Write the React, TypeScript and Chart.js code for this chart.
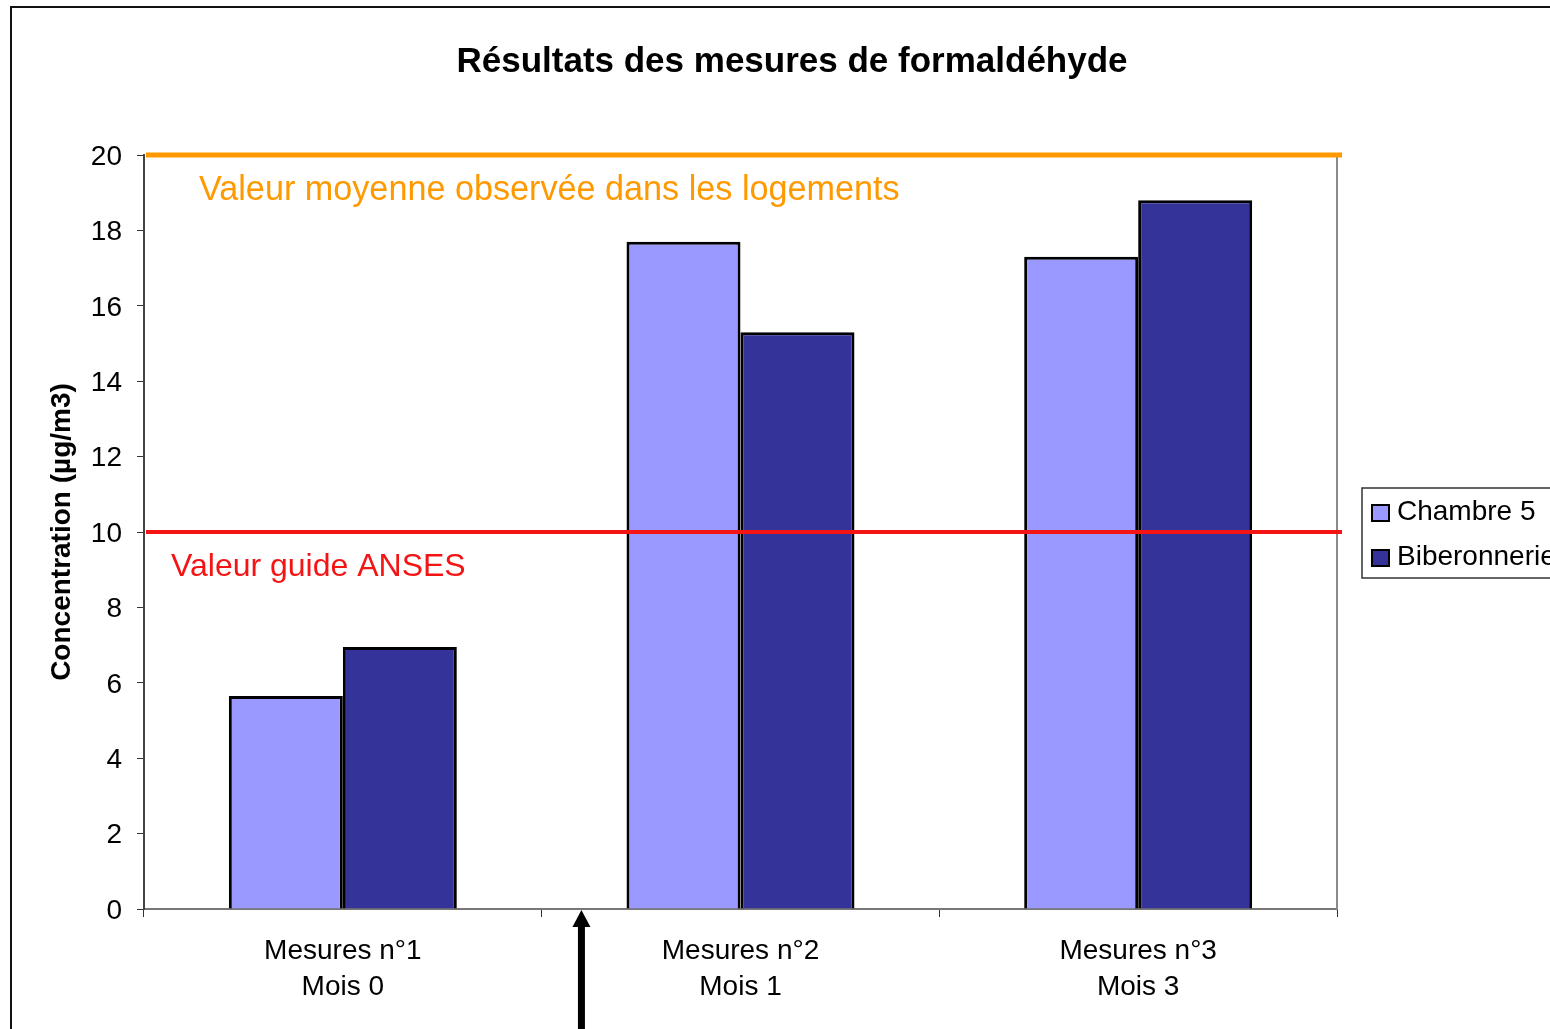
import React, { useEffect, useRef } from "react";
import { Chart, registerables } from "chart.js";

Chart.register(...registerables);

const chartTitle = "Résultats des mesures de formaldéhyde";
const categories: string[][] = [
  ["Mesures n°1", "Mois 0"],
  ["Mesures n°2", "Mois 1"],
  ["Mesures n°3", "Mois 3"],
];
const seriesNames = ["Chambre 5", "Biberonnerie"];
const chambre5 = [5.65, 17.7, 17.3];
const biberonnerie = [6.95, 15.3, 18.8];
const seriesColors = ["#9999FF", "#333399"];
const yTicks = [0, 2, 4, 6, 8, 10, 12, 14, 16, 18, 20];
const meanValue = 20;
const meanLabel = "Valeur moyenne observée dans les logements";
const guideValue = 10;
const guideLabel = "Valeur guide ANSES";
const arrowCategoryPos = 0.6;

const FONT = "'Liberation Sans', Arial, sans-serif";

const overlayPlugin = {
  id: "overlay",
  afterDatasetsDraw(chart: any) {
    const ctx = chart.ctx;
    const area = chart.chartArea;
    const y = chart.scales.y;
    const x = chart.scales.x;
    ctx.save();
    // plot right border
    ctx.strokeStyle = "#8a8a8a";
    ctx.lineWidth = 2;
    ctx.beginPath();
    ctx.moveTo(area.right, area.top);
    ctx.lineTo(area.right, area.bottom);
    ctx.stroke();

    // mean line
    const yMean = y.getPixelForValue(meanValue);
    ctx.strokeStyle = "#FF9900";
    ctx.lineWidth = 5;
    ctx.beginPath();
    ctx.moveTo(area.left + 2, yMean);
    ctx.lineTo(area.right + 5, yMean);
    ctx.stroke();

    // guide line
    const yGuide = y.getPixelForValue(guideValue);
    ctx.strokeStyle = "#F41414";
    ctx.lineWidth = 4;
    ctx.beginPath();
    ctx.moveTo(area.left + 2, yGuide);
    ctx.lineTo(area.right + 5, yGuide);
    ctx.stroke();

    // labels
    ctx.textBaseline = "middle";
    ctx.textAlign = "left";
    ctx.font = `34.2px ${FONT}`;
    ctx.fillStyle = "#FF9900";
    ctx.fillText(meanLabel, area.left + 55, yMean + 36);
    ctx.font = `32px ${FONT}`;
    ctx.fillStyle = "#F41414";
    ctx.fillText(guideLabel, area.left + 27, yGuide + 35);

    // title
    ctx.font = `bold 35px ${FONT}`;
    ctx.fillStyle = "#000";
    ctx.textAlign = "center";
    ctx.fillText(chartTitle, 792, 62);

    // outer frame
    ctx.strokeStyle = "#111";
    ctx.lineWidth = 2;
    ctx.beginPath();
    ctx.moveTo(11, chart.height + 5);
    ctx.lineTo(11, 7);
    ctx.lineTo(chart.width + 5, 7);
    ctx.stroke();

    // arrow
    const ax = x.getPixelForValue(arrowCategoryPos);
    const aTop = area.bottom + 1;
    ctx.fillStyle = "#000";
    ctx.fillRect(ax - 3.5, aTop + 14, 7, chart.height - aTop);
    ctx.beginPath();
    ctx.moveTo(ax, aTop);
    ctx.lineTo(ax - 9, aTop + 17);
    ctx.lineTo(ax + 9, aTop + 17);
    ctx.closePath();
    ctx.fill();

    // legend
    const lx = 1362, ly = 488;
    ctx.fillStyle = "#fff";
    ctx.fillRect(lx, ly, chart.width - lx + 10, 90);
    ctx.strokeStyle = "#333";
    ctx.lineWidth = 1.5;
    ctx.strokeRect(lx, ly, chart.width - lx + 10, 90);
    ctx.font = `28px ${FONT}`;
    ctx.textAlign = "left";
    seriesNames.forEach((name, i) => {
      const cy = 513 + i * 45;
      ctx.fillStyle = seriesColors[i];
      ctx.fillRect(1372, cy - 8, 17, 16);
      ctx.strokeStyle = "#000";
      ctx.lineWidth = 2;
      ctx.strokeRect(1372, cy - 8, 17, 16);
      ctx.fillStyle = "#000";
      ctx.fillText(name, 1397, cy - 1);
    });
    ctx.restore();
  },
};

export default function App() {
  const ref = useRef<HTMLCanvasElement>(null);
  useEffect(() => {
    document.body.style.margin = "0";
    const chart = new Chart(ref.current!, {
      type: "bar",
      data: {
        labels: categories,
        datasets: [
          {
            label: seriesNames[0],
            data: chambre5,
            backgroundColor: seriesColors[0],
            borderColor: "#000",
            borderWidth: 3,
          },
          {
            label: seriesNames[1],
            data: biberonnerie,
            backgroundColor: seriesColors[1],
            borderColor: "#000",
            borderWidth: 3,
          },
        ],
      },
      options: {
        responsive: false,
        animation: false,
        devicePixelRatio: 1,
        layout: { padding: { top: 155, right: 213, left: 0, bottom: 0 } },
        datasets: { bar: { categoryPercentage: 0.5733, barPercentage: 1 } },
        plugins: {
          legend: { display: false },
          title: { display: false },
          tooltip: { enabled: false },
        },
        scales: {
          x: {
            afterFit: (s: any) => { s.height = 120; },
            grid: {
              drawOnChartArea: false,
              drawTicks: true,
              tickLength: 8,
              color: "#333",
              offset: true,
            },
            border: { color: "#777", width: 2 },
            ticks: {
              color: "#000",
              padding: 16,
              font: { family: FONT, size: 28, lineHeight: 36 / 28 },
              maxRotation: 0,
            },
          },
          y: {
            min: 0,
            max: 20,
            afterFit: (s: any) => { s.width = 144; },
            afterBuildTicks: (s: any) => { s.ticks = yTicks.map((v) => ({ value: v })); },
            grid: {
              drawOnChartArea: false,
              drawTicks: true,
              tickLength: 7,
              color: "#333",
            },
            border: { color: "#444", width: 2 },
            ticks: {
              color: "#000",
              padding: 15,
              labelOffset: 2,
              font: { family: FONT, size: 28 },
            },
            title: {
              display: true,
              text: "Concentration (µg/m3)",
              color: "#000",
              font: { family: FONT, size: 28, weight: "bold", lineHeight: 1.2 },
              padding: { top: 45, bottom: 0 },
            },
          },
        },
      },
      plugins: [overlayPlugin],
    });
    return () => chart.destroy();
  }, []);
  return (
    <div style={{ position: "fixed", left: 0, top: 0, width: 1550, height: 1029 }}>
      <canvas ref={ref} width={1550} height={1029} style={{ display: "block" }} />
    </div>
  );
}
